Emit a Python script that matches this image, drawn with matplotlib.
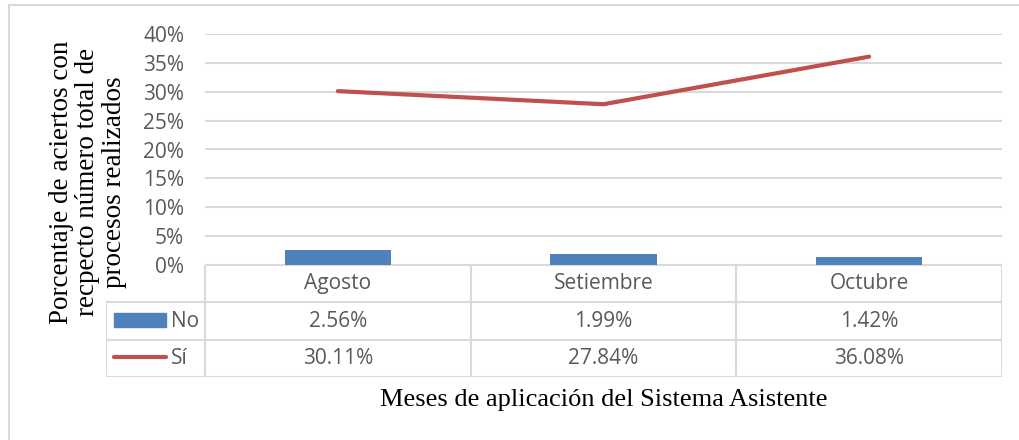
import matplotlib.pyplot as plt
from matplotlib.patches import Rectangle
from matplotlib.ticker import FuncFormatter

meses = ['Agosto', 'Setiembre', 'Octubre']
no_vals = [2.56, 1.99, 1.42]
si_vals = [30.11, 27.84, 36.08]
yticks = [0, 5, 10, 15, 20, 25, 30, 35, 40]

blue = '#4F81BD'
red = '#C0504D'
grid = '#D9D9D9'
txt = '#595959'

W, H = 1019, 440
fig = plt.figure(figsize=(W / 100, H / 100), dpi=100)

# outer chart border (right and bottom run off the picture)
fig.patches.append(Rectangle((8.5 / W, -0.05), 1.1, (H - 5.5) / H + 0.05,
                             transform=fig.transFigure, fill=False,
                             ec=grid, lw=1.5))

# plot area
x0, x1 = 205, 1002
ax = fig.add_axes([x0 / W, (H - 265) / H, (x1 - x0) / W, (265 - 34) / H])
xs = range(len(meses))
ax.bar(xs, no_vals, width=0.4, color=blue, zorder=3)
ax.plot(xs, si_vals, color=red, lw=3, solid_capstyle='round', zorder=4)
ax.set_xlim(-0.5, len(meses) - 0.5)
ax.set_ylim(0, 40)
ax.set_yticks(yticks)
ax.yaxis.set_major_formatter(FuncFormatter(lambda v, p: '%d%%' % v))
ax.set_xticks([])
ax.tick_params(axis='y', length=0, pad=15, labelsize=15, labelcolor=txt)
for lab in ax.get_yticklabels():
    lab.set_fontfamily('Open Sans')
ax.grid(axis='y', color=grid, lw=1.5, zorder=0)
for s in ax.spines.values():
    s.set_visible(False)

# data table below the plot
px = (len(meses)) / (x1 - x0)
left = -0.5 - (x0 - 106) * px
tab = fig.add_axes([106 / W, (H - 377) / H, (x1 - 106) / W, (377 - 265) / H])
tab.set_xlim(left, len(meses) - 0.5)
tab.set_ylim(3, 0)
tab.axis('off')
lk = dict(color=grid, lw=1.5, solid_capstyle='projecting')
tab.plot([-0.5, len(meses) - 0.5], [0, 0], **lk)
for r in [1, 2, 3]:
    tab.plot([left, len(meses) - 0.5], [r, r], **lk)
tab.plot([left, left], [1, 3], **lk)
for c in range(len(meses) + 1):
    tab.plot([c - 0.5, c - 0.5], [0, 3], **lk)

fnt = dict(family='Open Sans', size=15, color=txt, ha='center', va='center')
for i, m in enumerate(meses):
    tab.text(i, 0.5, m, **fnt)
    tab.text(i, 1.5, '%.2f%%' % no_vals[i], **fnt)
    tab.text(i, 2.5, '%.2f%%' % si_vals[i], **fnt)

# legend keys inside the table
tab.add_patch(Rectangle((left + 8 * px, 1.29), 52 * px, 0.37, color=blue))
tab.plot([left + 8 * px, left + 60 * px], [2.47, 2.47], color=red, lw=3,
         solid_capstyle='round')
lab = dict(family='Open Sans', size=15, color=txt, ha='left', va='center')
tab.text(left + 65 * px, 1.5, 'No', **lab)
tab.text(left + 65 * px, 2.5, 'Sí', **lab)

# axis titles
fig.text(88 / W, 1 - 182 / H,
         'Porcentaje de aciertos con\nrecpecto número total de\nprocesos realizados',
         rotation=90, ha='center', va='center', multialignment='center',
         family='Liberation Serif', size=19.5, linespacing=1.1)
fig.text(604 / W, 1 - 400 / H, 'Meses de aplicación del Sistema Asistente',
         ha='center', va='center', family='Liberation Serif', size=19)

fig.savefig('out.png', dpi=100)
